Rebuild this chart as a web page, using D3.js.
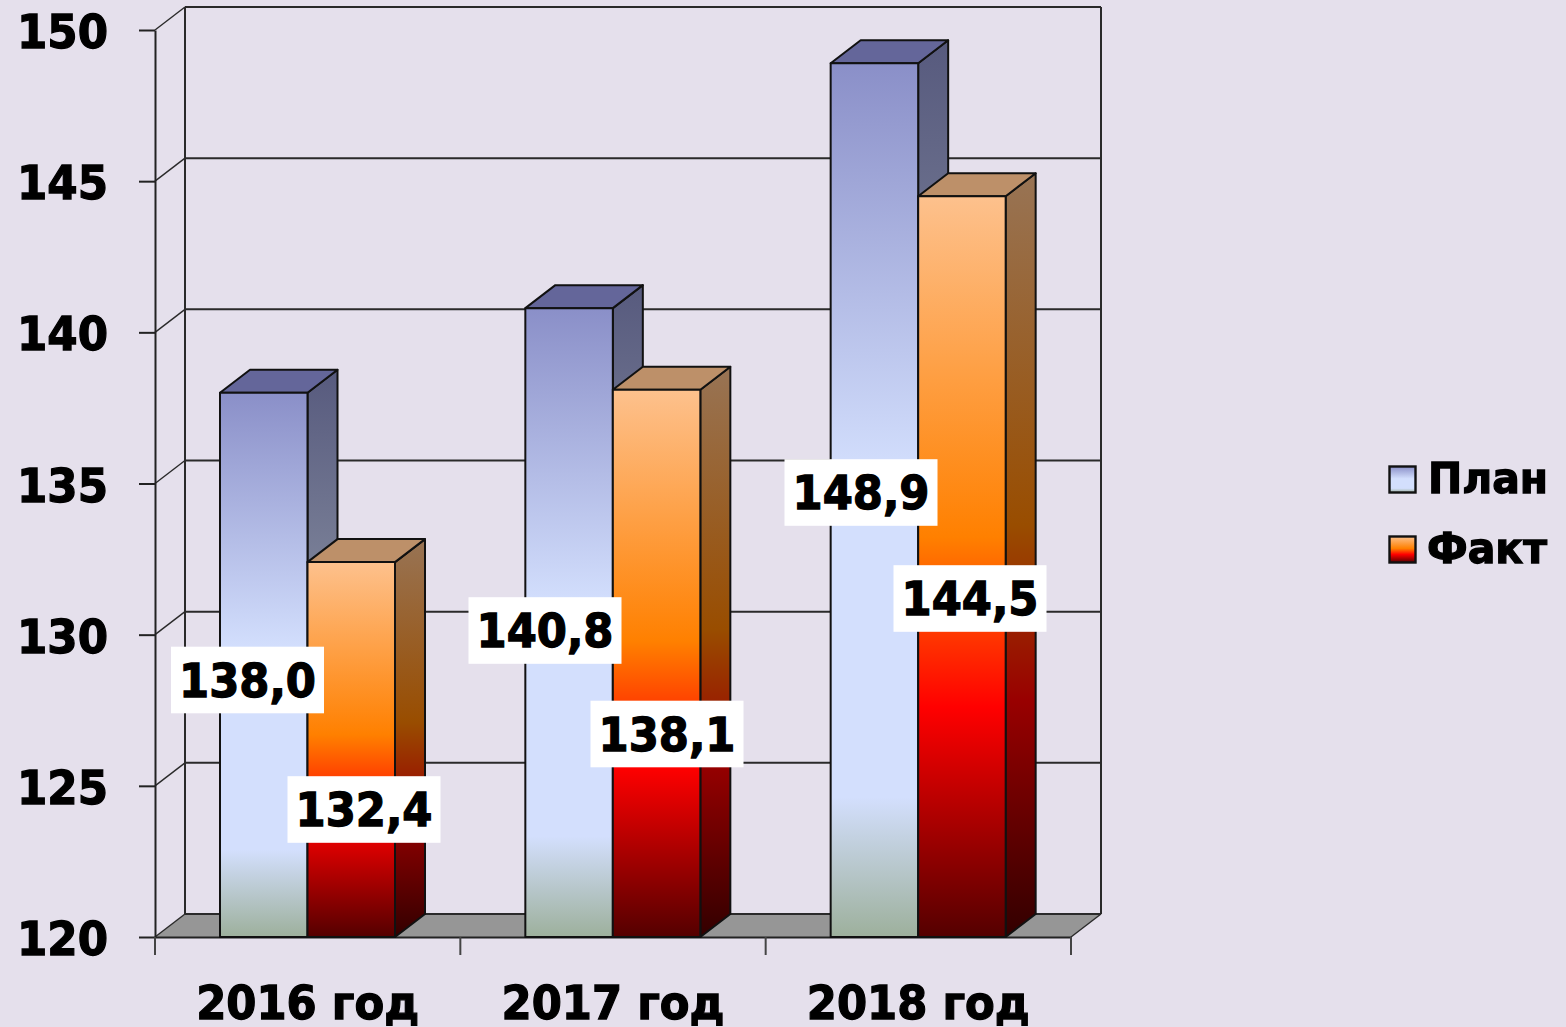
<!DOCTYPE html>
<html>
<head>
<meta charset="utf-8">
<script src="https://cdn.jsdelivr.net/npm/d3@7"></script>
<style>
    html, body { margin: 0; padding: 0; background: #e5e0ec; }
    svg { display: block; filter: blur(0.6px); }
    text { font-family: "DejaVu Sans", sans-serif; font-weight: bold; fill: #000; stroke: #000; stroke-width: 1.3px; }
</style>
</head>
<body>
<svg width="1566" height="1027"></svg>
<script>
// Данные диаграммы
const categories = ["2016 год", "2017 год", "2018 год"];
const seriesNames = ["План", "Факт"];
const planValues = [138.0, 140.8, 148.9];
const factValues = [132.4, 138.1, 144.5];
const yTicks = [120, 125, 130, 135, 140, 145, 150];

// Центры подписей значений (подписи в оригинале сдвинуты вручную)
const planLabelCenters = [[247.5, 680], [545, 630.5], [861, 492.5]];
const factLabelCenters = [[364, 809.5], [667, 734], [970, 598.5]];

// Цвета градиентов столбцов
const planStops = [[0, "#8a8fc8"], [0.47, "#d3dffd"], [0.84, "#d3dffd"], [1, "#9db09c"]];
const factStops = [[0, "#fdc18d"], [0.46, "#ff8000"], [0.69, "#ff0000"], [1, "#540000"]];

const attr_area = {
    left: 155, right: 1071, top: 30, bottom: 937,
    depthX: 30, depthY: 23
};

const svg = d3.select("svg");
const scaleX = d3.scaleBand().domain(categories).range([attr_area.left, attr_area.right]);
const scaleBar = d3.scaleBand().domain(seriesNames).range([65, 240]);
const scaleY = d3.scaleLinear().domain([120, 150]).range([attr_area.bottom, attr_area.top]);

createGradients();
createWalls();
createAxis();
createBars(planValues, seriesNames[0], "plan", "#64669a");
createBars(factValues, seriesNames[1], "fact", "#bd9069");
createLabels(planValues, planLabelCenters);
createLabels(factValues, factLabelCenters);
createLegend();

// Шрифт в оригинале сжат по горизонтали, поэтому ширину задаём отдельно
function fitText(sel, size, width) {
    sel.attr("font-size", size)
       .attr("font-family", null)
       .attr("textLength", width)
       .attr("lengthAdjust", "spacingAndGlyphs");
}

// Градиенты для передней и боковой граней
function createGradients() {
    const defs = svg.append("defs");
    const addGradient = (id, stops, k) => {
        const grad = defs.append("linearGradient")
            .attr("id", id)
            .attr("x1", 0).attr("y1", 0).attr("x2", 0).attr("y2", 1);
        stops.forEach(s => {
            const c = d3.rgb(s[1]);
            grad.append("stop")
                .attr("offset", s[0])
                .attr("stop-color", d3.rgb(c.r * k, c.g * k, c.b * k).formatHex());
        });
    };
    addGradient("plan", planStops, 1);
    addGradient("fact", factStops, 1);
    addGradient("plan-side", planStops, 0.63);
    addGradient("fact-side", factStops, 0.6);
}

// Задняя стенка, левая стенка и пол
function createWalls() {
    const dx = attr_area.depthX, dy = attr_area.depthY;
    const y0 = attr_area.bottom;

    svg.append("polygon")
        .attr("points", [[attr_area.left, y0], [attr_area.left + dx, y0 - dy],
            [attr_area.right + dx, y0 - dy], [attr_area.right, y0]].join(" "))
        .attr("fill", "#969696");

    // линии сетки на задней стенке
    const grid = svg.append("g").attr("stroke", "#2a2a2a").attr("stroke-width", 2).attr("fill", "none");
    grid.selectAll(".grid-back")
        .data(yTicks)
        .enter()
        .append("line")
        .attr("class", "grid-back")
        .attr("x1", attr_area.left + dx).attr("x2", attr_area.right + dx)
        .attr("y1", d => scaleY(d) - dy).attr("y2", d => scaleY(d) - dy);

    // наклонные линии на левой стенке
    grid.selectAll(".grid-side")
        .data(yTicks)
        .enter()
        .append("line")
        .attr("class", "grid-side")
        .attr("stroke-width", 1.4)
        .attr("x1", attr_area.left).attr("x2", attr_area.left + dx)
        .attr("y1", d => scaleY(d)).attr("y2", d => scaleY(d) - dy);

    grid.append("line")
        .attr("x1", attr_area.left + dx).attr("x2", attr_area.left + dx)
        .attr("y1", scaleY(150) - dy).attr("y2", y0 - dy);
    grid.append("line")
        .attr("x1", attr_area.right + dx).attr("x2", attr_area.right + dx)
        .attr("y1", scaleY(150) - dy).attr("y2", y0 - dy);
    grid.append("line")
        .attr("stroke-width", 1.4)
        .attr("x1", attr_area.right).attr("x2", attr_area.right + dx)
        .attr("y1", y0).attr("y2", y0 - dy);
}

// Оси
function createAxis() {
    const axisY = d3.axisLeft(scaleY).tickValues(yTicks).tickSize(16).tickPadding(31).tickSizeOuter(0);
    const gY = svg.append("g")
        .attr("transform", `translate(${attr_area.left}, 0)`)
        .call(axisY);
    fitText(gY.selectAll("text").attr("dy", "17.5px"), 47, 91);
    gY.selectAll("line,path").attr("stroke", "#222").attr("stroke-width", 2);

    const axisX = d3.axisBottom(scaleX).tickSize(0).tickPadding(52);
    const gX = svg.append("g")
        .attr("transform", `translate(0, ${attr_area.bottom})`)
        .call(axisX);
    fitText(gX.selectAll("text").attr("y", 81.8).attr("dy", 0), 47, 223);
    gX.select(".domain").attr("stroke", "#222").attr("stroke-width", 2);

    // засечки между категориями
    const edges = categories.map(d => scaleX(d)).concat(attr_area.right);
    svg.selectAll(".tick-x")
        .data(edges)
        .enter()
        .append("line")
        .attr("class", "tick-x")
        .attr("x1", d => d).attr("x2", d => d)
        .attr("y1", attr_area.bottom).attr("y2", attr_area.bottom + 18)
        .attr("stroke", "#444")
        .attr("stroke-width", 2);
}

// Объёмные столбцы одного ряда
function createBars(values, name, gradId, topColor) {
    const dx = attr_area.depthX, dy = attr_area.depthY;
    const w = scaleBar.bandwidth();
    const y0 = attr_area.bottom;

    const bars = svg.append("g")
        .selectAll("g")
        .data(values)
        .enter()
        .append("g")
        .attr("stroke", "#111")
        .attr("stroke-width", 2)
        .attr("stroke-linejoin", "round");

    const xLeft = (d, i) => scaleX(categories[i]) + scaleBar(name);

    // боковая грань
    bars.append("polygon")
        .attr("fill", `url(#${gradId}-side)`)
        .attr("points", (d, i) => {
            const x = xLeft(d, i) + w, y = scaleY(d);
            return [[x, y], [x + dx, y - dy], [x + dx, y0 - dy], [x, y0]].join(" ");
        });

    // верхняя грань
    bars.append("polygon")
        .attr("fill", topColor)
        .attr("points", (d, i) => {
            const x = xLeft(d, i), y = scaleY(d);
            return [[x, y], [x + dx, y - dy], [x + w + dx, y - dy], [x + w, y]].join(" ");
        });

    // передняя грань
    bars.append("rect")
        .attr("fill", `url(#${gradId})`)
        .attr("x", xLeft)
        .attr("y", d => scaleY(d))
        .attr("width", w)
        .attr("height", d => y0 - scaleY(d));
}

// Подписи значений на белой подложке
function createLabels(values, centers) {
    const fmt = d => d3.format(".1f")(d).replace(".", ",");
    const labels = svg.append("g")
        .selectAll("g")
        .data(values)
        .enter()
        .append("g")
        .attr("transform", (d, i) => `translate(${centers[i][0]}, ${centers[i][1]})`);

    labels.append("rect")
        .attr("x", -76.5).attr("y", -33.3)
        .attr("width", 153).attr("height", 66.6)
        .attr("fill", "#fff");

    labels.append("text")
        .attr("text-anchor", "middle")
        .attr("dy", "16.5px")
        .text(fmt)
        .call(fitText, 47, 137);
}

// Легенда
function createLegend() {
    const legendY = d3.scalePoint().domain(seriesNames).range([479.5, 549.5]);
    const legend = svg.append("g")
        .selectAll("g")
        .data(seriesNames)
        .enter()
        .append("g")
        .attr("transform", d => `translate(1389, ${legendY(d)})`);

    legend.append("rect")
        .attr("x", 0.5).attr("y", -13)
        .attr("width", 26).attr("height", 26)
        .attr("fill", (d, i) => i === 0 ? "url(#plan)" : "url(#fact)")
        .attr("stroke", "#111")
        .attr("stroke-width", 2.4);

    legend.append("text")
        .attr("x", (d, i) => i === 0 ? 39 : 38)
        .attr("dy", "13.5px")
        .text(d => d)
        .call(fitText, 43, 120);
}
</script>
</body>
</html>
